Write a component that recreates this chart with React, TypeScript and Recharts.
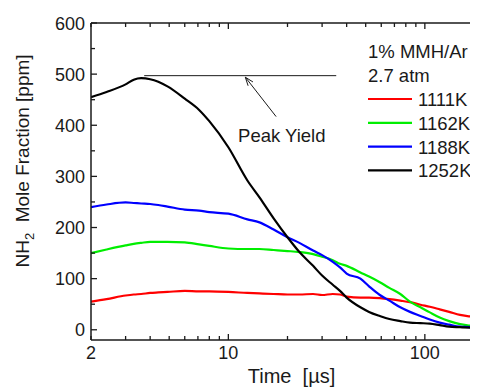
import { Legend, Line, LineChart, ReferenceLine, XAxis, YAxis } from "recharts";

const FONT = '"Liberation Sans", Arial, sans-serif';
const INK = "#1a1a1a";

// time in microseconds (log axis)
const times = [
  2, 2.4, 3, 3.3, 3.6, 4, 4.4, 4.9, 6, 7.1, 8, 10, 12.5, 14.4, 17, 20, 23, 27,
  30, 34, 37, 40, 47, 52, 59, 66, 75, 84, 95, 106, 119, 133, 151, 170, 186, 200,
];
// NH2 mole fraction in ppm
const k1111 = [
  55, 60, 67, 69, 70, 72, 73, 74, 76, 75, 75, 74, 72, 71, 70, 69, 69, 70, 68,
  70, 69, 65, 63, 63, 62, 60, 57, 54, 49, 45, 40, 35, 29, 26, 24, 22,
];
const k1162 = [
  150, 157, 165, 168, 170, 172, 172, 172, 171, 167, 164, 159, 158, 158, 156,
  154, 152, 148, 143, 136, 129, 125, 112, 104, 93, 82, 70, 55, 44, 34, 24, 17,
  11, 8, 6, 5,
];
const k1188 = [
  240, 245, 249, 248, 247, 246, 244, 241, 235, 233, 230, 227, 216, 210, 196,
  181, 170, 155, 146, 133, 122, 110, 100, 85, 68, 57, 44, 35, 27, 20, 14, 10,
  6, 5, 3, 3,
];
const k1252 = [
  455, 465, 480, 489, 492, 490, 485, 476, 452, 430, 408, 357, 292, 259, 218,
  181, 152, 125, 106, 88, 76, 63, 44, 35, 27, 21, 17, 14, 13, 12, 9, 6, 5, 4,
  3, 3,
];

const series = [
  { key: "k1111", name: "1111K", color: "#ff0000" },
  { key: "k1162", name: "1162K", color: "#00ee00" },
  { key: "k1188", name: "1188K", color: "#0000ff" },
  { key: "k1252", name: "1252K", color: "#000000" },
];

const xTicks = [2, 3, 4, 5, 6, 7, 8, 9, 10, 20, 30, 40, 50, 60, 70, 80, 90, 100, 200];
const xLabels = [2, 10, 100];
const yTicks = [0, 50, 100, 150, 200, 250, 300, 350, 400, 450, 500, 550, 600];

const peakYield = 497;

const data = times.map((t, i) => ({
  t,
  k1111: k1111[i],
  k1162: k1162[i],
  k1188: k1188[i],
  k1252: k1252[i],
}));

// tickSize/tickMargin are 0, so x/y below sit right on the axis line
function BottomTick({ x, y, payload }: any) {
  const v = payload.value;
  const major = v === 10 || v === 100;
  return (
    <g>
      <line x1={x} x2={x} y1={y} y2={y - (major ? 6 : 4)} stroke={INK} strokeWidth={1.3} />
      {xLabels.includes(v) && (
        <text x={x} y={y + 19} textAnchor="middle" fontSize={18} fontFamily={FONT} fill={INK}>
          {v}
        </text>
      )}
    </g>
  );
}

function TopTick({ x, y, payload }: any) {
  const v = payload.value;
  const major = v === 10 || v === 100;
  return <line x1={x} x2={x} y1={y} y2={y + (major ? 6 : 4)} stroke={INK} strokeWidth={1.3} />;
}

function LeftTick({ x, y, payload }: any) {
  const v = payload.value;
  const major = v % 100 === 0;
  return (
    <g>
      <line x1={x} x2={x + (major ? 6 : 4)} y1={y} y2={y} stroke={INK} strokeWidth={1.3} />
      {major && (
        <text x={x - 6} y={y + 6.5} textAnchor="end" fontSize={18} fontFamily={FONT} fill={INK}>
          {v}
        </text>
      )}
    </g>
  );
}

function Arrow(props: any) {
  const { x1, y1, x2, y2 } = props;
  const ang = Math.atan2(y1 - y2, x1 - x2);
  const len = 9;
  const a1 = ang + 0.35;
  const a2 = ang - 0.35;
  return (
    <g>
      <line x1={x1} y1={y1} x2={x2} y2={y2} stroke={INK} strokeWidth={1} />
      <line x1={x2} y1={y2} x2={x2 + len * Math.cos(a1)} y2={y2 + len * Math.sin(a1)} stroke={INK} strokeWidth={1} />
      <line x1={x2} y1={y2} x2={x2 + len * Math.cos(a2)} y2={y2 + len * Math.sin(a2)} stroke={INK} strokeWidth={1} />
      <text x={x1 - 38} y={y1 + 25} fontSize={18.5} fontFamily={FONT} fill={INK}>
        Peak Yield
      </text>
    </g>
  );
}

function LegendBox({ payload }: any) {
  return (
    <svg width={112} height={150} style={{ display: "block", overflow: "visible" }}>
      <text x={0} y={20} fontSize={18.5} fontFamily={FONT} fill={INK}>1% MMH/Ar</text>
      <text x={0} y={44} fontSize={18.5} fontFamily={FONT} fill={INK}>2.7 atm</text>
      {(payload || []).map((p: any, i: number) => {
        const ly = 61 + i * 23.8;
        return (
          <g key={p.value}>
            <line x1={0} x2={44} y1={ly} y2={ly} stroke={p.color} strokeWidth={2.2} />
            <text x={50} y={ly + 7} fontSize={18.5} fontFamily={FONT} fill={INK}>{p.value}</text>
          </g>
        );
      })}
    </svg>
  );
}

export default function App() {
  return (
    <div style={{ width: 470, height: 379, overflow: "hidden" }}>
      <LineChart width={490} height={379} data={data} margin={{ top: 0, right: 14, bottom: 7, left: 0 }}>
        <XAxis
          dataKey="t"
          type="number"
          scale="log"
          domain={[2, 200]}
          allowDataOverflow
          ticks={xTicks}
          interval={0}
          height={40}
          tickSize={0}
          tickMargin={0}
          tickLine={false}
          tick={<BottomTick />}
          axisLine={{ stroke: INK, strokeWidth: 1.5 }}
          label={{
            content: () => (
              <text
                x={283.5}
                y={375}
                textAnchor="middle"
                fontSize={20}
                fontFamily={FONT}
                fill={INK}
                style={{ whiteSpace: "pre" }}
              >
                {"Time  [µs]"}
              </text>
            ),
          }}
        />
        <XAxis
          xAxisId="top"
          orientation="top"
          dataKey="t"
          type="number"
          scale="log"
          domain={[2, 200]}
          allowDataOverflow
          ticks={xTicks}
          interval={0}
          height={15}
          tickSize={0}
          tickMargin={0}
          tickLine={false}
          tick={<TopTick />}
          axisLine={{ stroke: INK, strokeWidth: 1.5 }}
        />
        <YAxis
          type="number"
          domain={[-20, 600]}
          allowDataOverflow
          ticks={yTicks}
          interval={0}
          width={83}
          tickSize={0}
          tickMargin={0}
          tickLine={false}
          tick={<LeftTick />}
          axisLine={{ stroke: INK, strokeWidth: 1.5 }}
          label={{
            content: () => (
              <text
                x={21}
                y={153}
                transform="rotate(-90, 21, 153)"
                textAnchor="middle"
                fontSize={19}
                fontFamily={FONT}
                fill={INK}
                style={{ whiteSpace: "pre" }}
              >
                NH
                <tspan dy={5} fontSize={13}>2</tspan>
                <tspan dy={-5}>{"  Mole Fraction [ppm]"}</tspan>
              </text>
            ),
          }}
        />
        <Legend
          layout="vertical"
          align="center"
          verticalAlign="middle"
          wrapperStyle={{ left: 360, top: 30, width: 112, height: 150 }}
          content={<LegendBox />}
        />
        <ReferenceLine
          segment={[
            { x: 3.73, y: peakYield },
            { x: 35.4, y: peakYield },
          ]}
          stroke={INK}
          strokeWidth={1}
        />
        <ReferenceLine
          segment={[
            { x: 17.5, y: 417 },
            { x: 12.2, y: 494 },
          ]}
          shape={<Arrow />}
        />
        {series.map((s) => (
          <Line
            key={s.key}
            dataKey={s.key}
            name={s.name}
            type="monotone"
            stroke={s.color}
            strokeWidth={2.2}
            dot={false}
            isAnimationActive={false}
          />
        ))}
      </LineChart>
    </div>
  );
}
